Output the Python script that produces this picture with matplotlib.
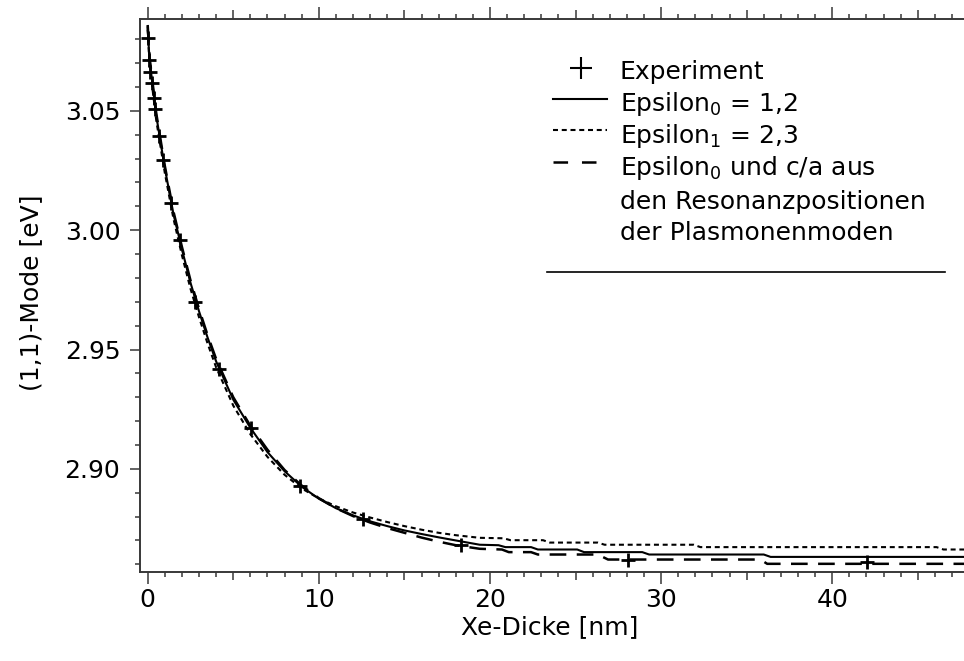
import matplotlib

matplotlib.use("Agg")
import matplotlib.pyplot as plt
from matplotlib.lines import Line2D
from matplotlib.ticker import FixedLocator, FuncFormatter, MultipleLocator

plt.rcParams["font.family"] = ["DejaVu Sans"]
plt.rcParams["mathtext.default"] = "regular"
plt.rcParams["lines.scale_dashes"] = False

_INK = "#000000"
_AXIS = "#383838"
_FS = 18

# Measured (1,1) mode positions vs. Xe thickness
exp_thickness = [0.00, 0.08, 0.15, 0.23, 0.35, 0.43, 0.68, 0.91, 1.36, 1.86,
                 2.77, 4.19, 6.04, 8.88, 12.59, 18.30, 28.07, 42.05]
exp_mode = [3.0806, 3.0712, 3.0663, 3.0617, 3.0555, 3.0506, 3.0396, 3.0296,
            3.0116, 2.9959, 2.9700, 2.9420, 2.9171, 2.8927, 2.8791, 2.8679,
            2.8620, 2.8609]

# Model: Epsilon_0 = 1,2
eps0_thickness = [0, 0.1, 0.25, 0.5, 0.75, 1, 1.5, 2, 2.5, 3, 3.5, 4, 5, 6, 7,
                  8, 9, 10, 11, 12, 13, 14, 15, 16, 17, 18, 19.4, 20.5, 20.9,
                  22.4, 22.8, 25.1, 25.5, 28.9, 29.3, 36.0, 36.4, 47.7]
eps0_mode = [3.085, 3.072, 3.063, 3.048, 3.037, 3.026, 3.007, 2.992, 2.978,
             2.966, 2.955, 2.945, 2.929, 2.9172, 2.907, 2.899, 2.8925, 2.8875,
             2.8835, 2.8805, 2.878, 2.876, 2.8742, 2.8727, 2.8713, 2.870,
             2.8682, 2.8680, 2.8672, 2.8672, 2.8662, 2.8662, 2.8651, 2.8651,
             2.8641, 2.8641, 2.8631, 2.8631]

# Model: Epsilon_1 = 2,3
eps1_thickness = [0, 0.1, 0.25, 0.5, 0.75, 1, 1.5, 2, 2.5, 3, 3.5, 4, 5, 6, 7,
                  8, 9, 10, 11, 12, 13, 14, 15, 16, 17, 18, 19.4, 20.8, 21.2,
                  23.1, 23.5, 26.3, 26.7, 31.9, 32.3, 46.1, 46.5, 47.7]
eps1_mode = [3.084, 3.070, 3.061, 3.046, 3.035, 3.024, 3.005, 2.9895, 2.9755,
             2.9635, 2.9525, 2.9425, 2.9265, 2.9145, 2.905, 2.8975, 2.8918,
             2.8876, 2.8843, 2.8817, 2.8796, 2.8777, 2.876, 2.8745, 2.8732,
             2.8722, 2.8711, 2.8709, 2.8701, 2.8701, 2.8691, 2.8691, 2.8682,
             2.8682, 2.8672, 2.8672, 2.8662, 2.8662]

# Model: Epsilon_0 and c/a from the plasmon resonance positions
res_thickness = [0, 0.1, 0.25, 0.5, 0.75, 1, 1.5, 2, 2.5, 3, 3.5, 4, 5, 6, 7,
                 8, 9, 10, 11, 12, 13, 14, 15, 16, 17, 18, 19.4, 20.7, 21.1,
                 22.4, 22.8, 26.3, 26.9, 35.8, 36.2, 47.7]
res_mode = [3.086, 3.073, 3.064, 3.049, 3.038, 3.027, 3.008, 2.993, 2.979,
            2.967, 2.956, 2.946, 2.930, 2.918, 2.908, 2.8995, 2.893, 2.8877,
            2.8835, 2.8802, 2.8775, 2.8752, 2.8732, 2.8712, 2.8695, 2.868,
            2.8665, 2.8662, 2.8651, 2.8651, 2.8641, 2.8641, 2.8620, 2.8620,
            2.8602, 2.8602]

W, H = 964, 661


def px(x, y):
    """Pixel position -> figure fraction."""
    return x / W, 1 - y / H


fig = plt.figure(figsize=(W / 100, H / 100), dpi=100)
fig.patch.set_facecolor("white")
ax = fig.add_axes([140 / W, (H - 571.7) / H, (W - 140) / W, (571.7 - 19) / H])

DOT = (0, (3.6, 2.7))
DASH = (0, (12, 7.5))

ax.plot(eps0_thickness, eps0_mode, color=_INK, lw=1.5, ls="-")
ax.plot(eps1_thickness, eps1_mode, color=_INK, lw=1.5, ls=DOT)
ax.plot(res_thickness, res_mode, color=_INK, lw=1.8, ls=DASH)
ax.plot(exp_thickness, exp_mode, ls="none", marker="+", ms=9.5, mew=2.0,
        color=_INK)

ax.set_xlim(-0.45, 47.7)
ax.set_ylim(2.8569, 3.0885)

for side in ("left", "bottom", "top"):
    ax.spines[side].set_color(_AXIS)
    ax.spines[side].set_linewidth(1.4)
ax.spines["right"].set_visible(False)

# y axis: labelled every 0.05, small ticks every 0.01
ax.yaxis.set_major_locator(MultipleLocator(0.05))
ax.yaxis.set_minor_locator(MultipleLocator(0.01))
ax.yaxis.set_major_formatter(FuncFormatter(lambda v, _: f"{v:.2f}"))
ax.tick_params(axis="y", which="major", direction="out", length=7.2,
               width=1.1, color=_AXIS, labelsize=_FS, pad=7, right=False)
ax.tick_params(axis="y", which="minor", direction="out", length=3.6,
               width=1.1, color=_AXIS, right=False)

# x axis: long ticks every 10, medium every 5, short every 1 (top and bottom)
x_major = list(range(0, 50, 5))
ax.xaxis.set_major_locator(FixedLocator(x_major))
ax.xaxis.set_minor_locator(MultipleLocator(1))
ax.xaxis.set_major_formatter(
    FuncFormatter(lambda v, _: f"{v:.0f}" if round(v) % 10 == 0 else ""))
ax.tick_params(axis="x", which="major", direction="out", length=8.6,
               width=1.1, color=_AXIS, labelsize=_FS, pad=3, top=True)
ax.tick_params(axis="x", which="minor", direction="out", length=3.8,
               width=1.1, color=_AXIS, top=True)

for loc, tick in zip(x_major, ax.xaxis.get_major_ticks()):
    if loc % 10:
        tick.tick1line.set_markersize(5.8)
        tick.tick2line.set_markersize(6.5)
    else:
        tick.tick1line.set_markersize(8.6)
        tick.tick2line.set_markersize(8.6)

ax.set_xlabel("Xe-Dicke [nm]", fontsize=_FS)
ax.xaxis.set_label_coords(0.497, -0.078)
ax.set_ylabel("(1,1)-Mode [eV]", fontsize=_FS)
ax.yaxis.set_label_coords(-0.117, 0.505)

# Hand-built key in the upper right
text_x = 620
rows = [
    ("Experiment", 70),
    ("Epsilon$_0$ = 1,2", 101),
    ("Epsilon$_1$ = 2,3", 132),
    ("Epsilon$_0$ und c/a aus", 164),
    ("den Resonanzpositionen", 199),
    ("der Plasmonenmoden", 231),
]
for label, y in rows:
    fig.text(*px(text_x, y), label, fontsize=_FS, ha="left",
             va="center_baseline", color=_INK)

mx, my = px(581, 68)
fig.add_artist(Line2D([mx], [my], ls="none", marker="+", ms=15.5, mew=1.5,
                      color=_INK, transform=fig.transFigure))
for y, style, lw, x1 in ((99, "-", 1.5, 607), (130, DOT, 1.5, 607),
                         (162, (0, (10.5, 10)), 1.8, 596)):
    (xa, ya), (xb, _) = px(553, y), px(x1, y)
    fig.add_artist(Line2D([xa, xb], [ya, ya], ls=style, lw=lw, color=_INK,
                          transform=fig.transFigure))
(xa, ya), (xb, _) = px(547, 272), px(945, 272)
fig.add_artist(Line2D([xa, xb], [ya, ya], lw=1.2, color=_INK,
                      transform=fig.transFigure))

fig.savefig("out.png", dpi=100, facecolor="white")
